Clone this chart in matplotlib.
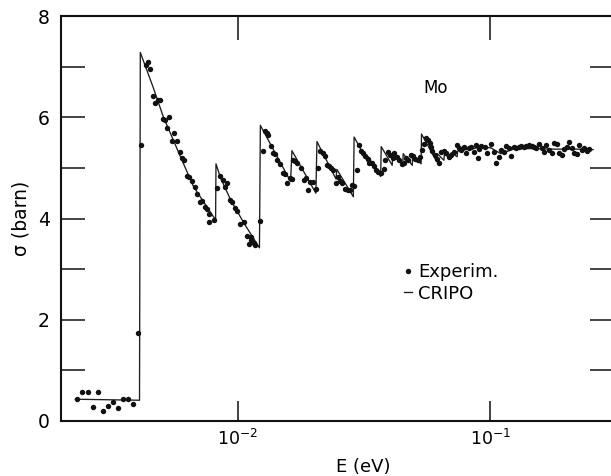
import matplotlib
matplotlib.use("Agg")
import matplotlib.pyplot as plt
from matplotlib.lines import Line2D
from matplotlib.ticker import NullLocator, FixedLocator

# ---- experimental points (E in eV, sigma in barn) ----
E_exp = [0.00232, 0.00243, 0.00256, 0.00280, 0.00267, 0.00292, 0.00306, 0.00321,
         0.00336, 0.00351, 0.00368, 0.00387, 0.00402, 0.00416,
         0.00433, 0.00441, 0.00449, 0.00463, 0.00473, 0.00483, 0.00492,
         0.00507, 0.00516, 0.00537, 0.00527, 0.00561, 0.00551, 0.00574,
         0.00590, 0.00603, 0.00614, 0.00632, 0.00643, 0.00661, 0.00677,
         0.00692, 0.00708, 0.00724, 0.00740, 0.00755, 0.00772, 0.00772, 0.00808,
         0.00825, 0.00850, 0.00878, 0.00910, 0.00890, 0.00932, 0.00947, 0.00973,
         0.00991, 0.01018, 0.01059, 0.01093, 0.01134, 0.01109, 0.01161, 0.01126,
         0.01168, 0.01223,
         0.01260, 0.01279, 0.01303, 0.01319, 0.01352, 0.01386, 0.01406, 0.01437,
         0.01472, 0.01513, 0.01541, 0.01575, 0.01613, 0.01643, 0.01657, 0.01688,
         0.01725, 0.01778, 0.01823, 0.01861, 0.01901, 0.01936, 0.01984, 0.02040,
         0.02083, 0.02121, 0.02168, 0.02214, 0.02255, 0.02303, 0.02339, 0.02376,
         0.02449, 0.02500, 0.02547, 0.02586, 0.02666, 0.02725, 0.02783, 0.02827,
         0.02894, 0.02966, 0.03013, 0.03077, 0.03142, 0.03201, 0.03271,
         0.03319, 0.03393, 0.03475, 0.03529, 0.03604, 0.03694, 0.03786, 0.03842,
         0.03926, 0.04021, 0.04110, 0.04171, 0.04276, 0.04366, 0.04463, 0.04570,
         0.04655, 0.04740, 0.04858, 0.04961, 0.05053, 0.05165, 0.05275, 0.05358,
         0.05456, 0.05572, 0.05660, 0.05764, 0.05833, 0.05902, 0.06012, 0.06145,
         0.06258, 0.06392, 0.06552, 0.06690, 0.06832, 0.07002, 0.07178, 0.07396,
         0.07513, 0.07672, 0.07864, 0.08032, 0.08202, 0.08406, 0.08616, 0.08799,
         0.08937, 0.09020, 0.09211, 0.09494, 0.09730, 0.1003, 0.1034, 0.1056,
         0.1079, 0.1106, 0.1133, 0.1158, 0.1182, 0.1212, 0.1242, 0.1268, 0.1300,
         0.1327, 0.1361, 0.1390, 0.1419, 0.1455, 0.1491, 0.1522, 0.1555, 0.1594,
         0.1633, 0.1668, 0.1703, 0.1746, 0.1790, 0.1828, 0.1866, 0.1913, 0.1961,
         0.2003, 0.2053, 0.2096, 0.2148, 0.2194, 0.2241, 0.2297, 0.2354, 0.2405,
         0.2455]
sig_exp = [0.43, 0.57, 0.57, 0.58, 0.28, 0.20, 0.29, 0.38,
           0.26, 0.43, 0.44, 0.34, 1.73, 5.46,
           7.04, 7.09, 6.96, 6.42, 6.29, 6.34, 6.34,
           5.96, 5.95, 6.00, 5.78, 5.69, 5.53, 5.53,
           5.31, 5.20, 5.16, 4.83, 4.82, 4.75, 4.63,
           4.49, 4.32, 4.34, 4.23, 4.19, 4.08, 3.94, 3.97,
           4.61, 4.83, 4.76, 4.70, 4.62, 4.37, 4.33, 4.20,
           4.14, 3.89, 3.94, 3.66, 3.63, 3.49, 3.51, 3.58,
           3.48, 3.95,
           5.34, 5.72, 5.68, 5.65, 5.43, 5.30, 5.27, 5.16,
           5.08, 4.90, 4.88, 4.71, 4.80, 4.78, 5.16, 5.14,
           5.09, 4.99, 4.76, 4.80, 4.57, 4.73, 4.73, 4.58,
           4.99, 5.34, 5.29, 5.24, 5.06, 5.03, 4.99, 4.96,
           4.71, 4.81, 4.75, 4.71, 4.58, 4.56, 4.56, 4.66,
           4.64, 4.95, 5.45, 5.34, 5.29, 5.24, 5.17,
           5.09, 5.10, 5.03, 4.96, 4.91, 4.90, 4.97, 5.16,
           5.32, 5.26, 5.19, 5.29, 5.22, 5.16, 5.08, 5.10,
           5.19, 5.16, 5.26, 5.24, 5.18, 5.16, 5.22, 5.36,
           5.47, 5.59, 5.55, 5.49, 5.42, 5.34, 5.26, 5.17,
           5.10, 5.32, 5.34, 5.29, 5.21, 5.26, 5.32, 5.45,
           5.39, 5.36, 5.41, 5.29, 5.39, 5.42, 5.32, 5.45,
           5.19, 5.37, 5.43, 5.42, 5.29, 5.47, 5.32, 5.10,
           5.22, 5.36, 5.32, 5.43, 5.39, 5.24, 5.42, 5.39, 5.42,
           5.43, 5.42, 5.44, 5.45, 5.43, 5.42, 5.39, 5.47, 5.39,
           5.32, 5.45, 5.36, 5.29, 5.50, 5.47, 5.29, 5.26, 5.37,
           5.42, 5.52, 5.39, 5.29, 5.27, 5.45, 5.36, 5.39, 5.34,
           5.37]

# ---- CRIPO calculation (E in eV, sigma in barn) ----
E_cripo = [0.00228, 0.00409, 0.00412, 0.00464, 0.00508, 0.00594, 0.00669, 0.00818,
           0.00821, 0.00856, 0.00938, 0.01059, 0.01220, 0.01230, 0.01620, 0.01640,
           0.02040, 0.02060, 0.02450, 0.02470, 0.02870, 0.02890, 0.03270, 0.03290,
           0.03680, 0.03700, 0.04090, 0.04110, 0.04500, 0.04520, 0.04910, 0.04930,
           0.05320, 0.05340, 0.06140, 0.06170, 0.06550, 0.06580, 0.06970, 0.07000,
           0.07390, 0.07420, 0.08000, 0.09000, 0.1000, 0.1100, 0.1250, 0.1500,
           0.1800, 0.2200, 0.2550]
sig_cripo = [0.43, 0.41, 7.28, 6.58, 6.01, 5.22, 4.63, 3.97,
             5.08, 4.80, 4.37, 3.91, 3.42, 5.84, 4.73, 5.34,
             4.50, 5.52, 4.78, 4.97, 4.43, 5.61, 5.12, 5.22,
             4.83, 5.42, 5.05, 5.30, 5.05, 5.28, 5.05, 5.25,
             5.08, 5.67, 5.12, 5.28, 5.15, 5.27, 5.18, 5.30,
             5.22, 5.33, 5.36, 5.40, 5.40, 5.28, 5.38, 5.38,
             5.37, 5.37, 5.36]

x_ticks = [1e-2, 1e-1]
x_tick_labels = [r"$10^{-2}$", r"$10^{-1}$"]
y_ticks = [0, 1, 2, 3, 4, 5, 6, 7, 8]
y_tick_labels = ["0", "", "2", "", "4", "", "6", "", "8"]

W, H = 611, 476
PX = 72 / 100  # points per pixel at dpi 100
fig = plt.figure(figsize=(W / 100, H / 100), dpi=100)
# axes pixel box: left 61, right 618 (outside the image), top 16, bottom 421
AX_R = 618
ax = fig.add_axes([61 / W, (H - 421) / H, (AX_R - 61) / W, (421 - 16) / H])

ax.plot(E_cripo, sig_cripo, color="#1e1e1e", lw=0.95, zorder=2)
ax.plot(E_exp, sig_exp, ls="none", marker="o", ms=3.9, color="#111111",
        markeredgewidth=0, zorder=3)

ax.set_xscale("log")
ax.set_xlim(0.002, 0.32)
ax.set_ylim(0, 8)

ax.xaxis.set_major_locator(FixedLocator(x_ticks))
ax.xaxis.set_minor_locator(NullLocator())
ax.set_xticklabels(x_tick_labels)
ax.set_yticks(y_ticks)
ax.set_yticklabels(y_tick_labels)

ax.tick_params(axis="x", which="major", direction="in", top=True, bottom=True,
               length=20 * PX, width=1.1, labelsize=12.5, pad=6, color="#111111")
ax.tick_params(axis="y", which="major", direction="in", left=True, right=True,
               length=24 * PX, width=1.1, labelsize=13.5, pad=8, color="#111111")

for t in ax.xaxis.get_major_ticks():
    t.tick2line.set_markersize(24 * PX)   # top ticks slightly longer
for t in ax.yaxis.get_major_ticks():
    t.tick2line.set_markersize((AX_R - 590) * PX)  # right ticks reach 590 px
    v = t.get_loc()
    if v == 4:
        t.tick1line.set_color("#7262c4")
        t.tick2line.set_color("#7262c4")
    elif v in (1, 2, 3):
        t.tick1line.set_color("#4a6a4a")

for side in ["left", "bottom", "top", "right"]:
    ax.spines[side].set_linewidth(1.5)
    ax.spines[side].set_color("#111111")

ax.set_xlabel("E (eV)", fontsize=13)
ax.xaxis.set_label_coords((363 - 61) / (AX_R - 61), -0.092)
ax.xaxis.label.set_verticalalignment("top")
ax.set_ylabel("σ (barn)", fontsize=13.5)
ax.yaxis.set_label_coords(-0.054, 0.5)

ax.text(0.0605, 6.58, "Mo", fontsize=12, ha="center", va="center")

handles = [Line2D([], [], ls="none", marker="o", ms=3.9, color="#111111", markeredgewidth=0),
           Line2D([], [], color="#1e1e1e", lw=0.95)]
ax.legend(handles, ["Experim.", "CRIPO"], loc="upper left",
          bbox_to_anchor=((404 - 61) / (AX_R - 61), (421 - 263) / 405),
          frameon=False, fontsize=13,
          handlelength=0.45, handletextpad=0.35, labelspacing=0.2,
          borderpad=0, borderaxespad=0)

fig.savefig("out.png", dpi=100)
